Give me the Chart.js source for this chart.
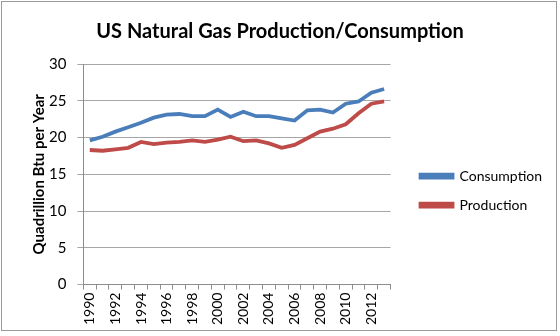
<!DOCTYPE html>
<html>
<head>
<meta charset="utf-8">
<script src="https://cdn.jsdelivr.net/npm/chart.js@4"></script>
<style>
  html, body { margin: 0; padding: 0; background: #fff; }
  #wrap { width: 560px; height: 336px; }
</style>
</head>
<body>
<div id="wrap"><canvas id="chart" width="560" height="336"></canvas></div>
<script>
// years 1990-2013
const years = ['1990','1991','1992','1993','1994','1995','1996','1997','1998','1999','2000','2001',
  '2002','2003','2004','2005','2006','2007','2008','2009','2010','2011','2012','2013'];

// quadrillion Btu
const consumption = [19.6, 20.1, 20.8, 21.4, 22.0, 22.7, 23.1, 23.2, 22.9, 22.9, 23.8, 22.8,
  23.5, 22.9, 22.9, 22.6, 22.3, 23.7, 23.8, 23.4, 24.6, 24.9, 26.1, 26.6];
const production = [18.3, 18.2, 18.4, 18.6, 19.4, 19.1, 19.3, 19.4, 19.6, 19.4, 19.7, 20.1,
  19.5, 19.6, 19.2, 18.6, 19.0, 19.9, 20.8, 21.2, 21.8, 23.3, 24.6, 24.9];

const yTicks = [0, 5, 10, 15, 20, 25, 30];

const FONT = 'Lato, "Open Sans", sans-serif';
const BLUE = '#4a7ebb';
const RED = '#be4b48';

// 外框
const framePlugin = {
  id: 'frame',
  beforeDraw(chart) {
    const ctx = chart.ctx;
    ctx.save();
    ctx.fillStyle = '#fff';
    ctx.fillRect(0, 0, chart.width, chart.height);
    ctx.strokeStyle = '#9a9a9a';
    ctx.lineWidth = 1;
    ctx.strokeRect(1.5, 1.5, 555, 329);
    ctx.restore();
  }
};

new Chart(document.getElementById('chart'), {
  type: 'line',
  data: {
    labels: years,
    datasets: [
      {
        label: 'Consumption',
        data: consumption,
        borderColor: BLUE,
        backgroundColor: BLUE,
        borderWidth: 3.8,
        pointRadius: 0,
        tension: 0
      },
      {
        label: 'Production',
        data: production,
        borderColor: RED,
        backgroundColor: RED,
        borderWidth: 3.8,
        pointRadius: 0,
        tension: 0
      }
    ]
  },
  options: {
    responsive: false,
    animation: false,
    layout: { padding: { top: 4, left: 8, right: 8, bottom: 8 } },
    plugins: {
      title: {
        display: true,
        text: 'US Natural Gas Production/Consumption',
        color: '#000',
        font: { family: FONT, size: 20, weight: 'bold' },
        padding: { top: 16, bottom: 20 }
      },
      legend: {
        position: 'right',
        maxWidth: 200,
        title: { display: true, text: ' ', font: { size: 1 }, padding: { top: 48, bottom: 0 } },
        labels: {
          color: '#000',
          font: { family: FONT, size: 14 },
          boxWidth: 32,
          boxHeight: 3,
          padding: 15
        }
      },
      tooltip: { enabled: false }
    },
    scales: {
      x: {
        offset: true,
        grid: {
          offset: true,
          drawOnChartArea: false,
          drawTicks: true,
          tickLength: 5,
          color: '#8c8c8c'
        },
        border: { color: '#8c8c8c' },
        ticks: {
          autoSkip: false,
          maxRotation: 90,
          minRotation: 90,
          color: '#000',
          font: { family: FONT, size: 14 },
          callback: (v, i) => (i % 2 === 0 ? years[i] : '')
        }
      },
      y: {
        min: 0,
        max: 30,
        afterBuildTicks: axis => { axis.ticks = yTicks.map(v => ({ value: v })); },
        grid: { color: '#a6a6a6', tickLength: 6 },
        border: { color: '#8c8c8c' },
        title: {
          display: true,
          text: 'Quadrillion Btu per Year',
          color: '#000',
          font: { family: FONT, size: 15, weight: 'bold' },
          padding: { top: 22, bottom: -10 }
        },
        ticks: {
          color: '#000',
          font: { family: FONT, size: 15 },
          padding: 11
        }
      },
      gap: {
        // 图例与绘图区之间的空隙
        position: 'right',
        display: true,
        grid: { display: false },
        border: { display: false },
        ticks: { display: false },
        afterFit: axis => { axis.width = 15; }
      }
    }
  },
  plugins: [framePlugin]
});
</script>
</body>
</html>
